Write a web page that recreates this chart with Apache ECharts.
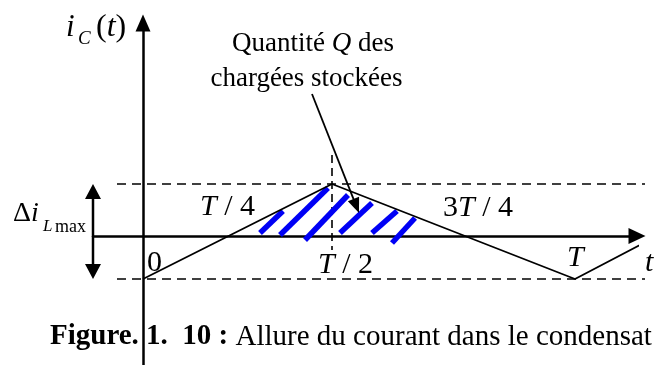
<!DOCTYPE html>
<html>
<head>
<meta charset="utf-8">
<script src="https://cdn.jsdelivr.net/npm/echarts@6/dist/echarts.min.js"></script>
<style>
  html, body { margin: 0; padding: 0; background: #ffffff; }
  #chart { width: 659px; height: 365px; }
</style>
</head>
<body>
<div id="chart"></div>
<script>
// Capacitor current i_C(t): triangular ripple over one period.
// Diagram units: origin at t = 0 on the time axis, i = 0 on the current axis.
const waveT = [0, 189, 432, 516];
const waveI = [-43, 52, -43, 1];

// Ripple extremes (dashed guides) and how far they run along t
const levelHigh = 52;
const levelLow = -43;
const levelFrom = -26;
const levelTo = 502;

// Vertical dashed guide through the peak (t = T/2)
const peakT = 189;
const peakGuide = [81, -14];

// Hatching of the stored charge Q: segments [t1, i1, t2, i2]
const hatchSegments = [
  [117, 3, 140, 25],
  [137, 1, 185, 48],
  [162, -4, 205, 41],
  [197, 3, 229, 33],
  [229, 3, 254, 25],
  [249, -7, 272, 18]
];

// Pointer from the "Quantité Q" note into the hatched area: [t1, i1, t2, i2]
const pointer = [169, 142, 216, 23];

// Δi_L max double arrow, drawn at t = rippleT between the two levels
const rippleT = -50;

// Axis extents
const tRange = [-50, 494];
const iRange = [-129, 213];

const serif = '"Liberation Serif", "Times New Roman", "DejaVu Serif", serif';
const ink = '#000000';
const hatchBlue = '#0000f5';

function arrowRenderer(headW, headL, lineW) {
  return function (params, api) {
    const a = api.coord([api.value(0), api.value(1)]);
    const b = api.coord([api.value(2), api.value(3)]);
    const both = api.value(4) === 1;
    const dx = b[0] - a[0], dy = b[1] - a[1];
    const len = Math.hypot(dx, dy);
    const ux = dx / len, uy = dy / len;
    const px = -uy, py = ux;
    const head = (tip, sx, sy) => {
      const bx = tip[0] - sx * headL, by = tip[1] - sy * headL;
      return {
        type: 'polygon',
        shape: { points: [tip, [bx + px * headW / 2, by + py * headW / 2], [bx - px * headW / 2, by - py * headW / 2]] },
        style: { fill: ink, stroke: null }
      };
    };
    const start = both ? [a[0] + ux * headL * 0.9, a[1] + uy * headL * 0.9] : a;
    const end = [b[0] - ux * headL * 0.9, b[1] - uy * headL * 0.9];
    const children = [
      { type: 'line', shape: { x1: start[0], y1: start[1], x2: end[0], y2: end[1] }, style: { stroke: ink, lineWidth: lineW } },
      head(b, ux, uy)
    ];
    if (both) children.push(head(a, -ux, -uy));
    return { type: 'group', children: children };
  };
}

function hatchRenderer(params, api) {
  const a = api.coord([api.value(0), api.value(1)]);
  const b = api.coord([api.value(2), api.value(3)]);
  return {
    type: 'line',
    shape: { x1: a[0], y1: a[1], x2: b[0], y2: b[1] },
    style: { stroke: hatchBlue, lineWidth: 5.5, lineCap: 'butt' }
  };
}

function txt(x, y, text, size, opts) {
  opts = opts || {};
  const style = {
    text: text,
    x: x, y: y,
    font: (opts.style || '') + ' ' + size + 'px ' + serif,
    fill: ink,
    align: opts.align || 'left',
    textAlign: opts.align || 'left',
    verticalAlign: 'middle',
    textVerticalAlign: 'middle'
  };
  if (opts.rich) style.rich = opts.rich;
  return { type: 'text', z: 100, style: style };
}

function richSet(size, extra) {
  const base = {
    n: { fontFamily: serif, fontSize: size, fontStyle: 'normal', color: ink },
    i: { fontFamily: serif, fontSize: size, fontStyle: 'italic', color: ink }
  };
  return Object.assign(base, extra || {});
}

const chart = echarts.init(document.getElementById('chart'), null, { renderer: 'canvas' });

const option = {
  backgroundColor: '#ffffff',
  animation: false,
  grid: { left: 93, right: 22, top: 23, bottom: 0 },
  xAxis: {
    type: 'value',
    min: tRange[0], max: tRange[1],
    axisLine: {
      show: true, onZero: true,
      symbol: ['none', 'triangle'], symbolSize: [16, 17], symbolOffset: [0, 0],
      lineStyle: { color: ink, width: 2.5 }
    },
    axisTick: { show: false }, axisLabel: { show: false }, splitLine: { show: false }
  },
  yAxis: {
    type: 'value',
    min: iRange[0], max: iRange[1],
    axisLine: {
      show: true, onZero: true,
      symbol: ['none', 'triangle'], symbolSize: [15, 17], symbolOffset: [0, 0],
      lineStyle: { color: ink, width: 2.5 }
    },
    axisTick: { show: false }, axisLabel: { show: false }, splitLine: { show: false }
  },
  series: [
    {
      name: 'guides',
      type: 'lines',
      coordinateSystem: 'cartesian2d',
      clip: false,
      silent: true,
      z: 2,
      lineStyle: { color: ink, width: 1.6, type: [9, 6], opacity: 1 },
      data: [
        { coords: [[levelFrom, levelHigh], [levelTo, levelHigh]] },
        { coords: [[levelFrom, levelLow], [levelTo, levelLow]] }
      ]
    },
    {
      name: 'peakGuide',
      type: 'lines',
      coordinateSystem: 'cartesian2d',
      clip: false,
      silent: true,
      z: 2,
      lineStyle: { color: ink, width: 1.6, type: [8, 5], opacity: 1 },
      data: [{ coords: [[peakT, peakGuide[0]], [peakT, peakGuide[1]]] }]
    },
    {
      name: 'Q',
      type: 'custom',
      coordinateSystem: 'cartesian2d',
      clip: false,
      z: 3,
      renderItem: hatchRenderer,
      encode: { x: [0, 2], y: [1, 3] },
      data: hatchSegments
    },
    {
      name: 'i_C',
      type: 'line',
      clip: false,
      z: 4,
      symbol: 'none',
      lineStyle: { color: ink, width: 1.8 },
      data: waveT.map((t, k) => [t, waveI[k]])
    },
    {
      name: 'pointer',
      type: 'custom',
      coordinateSystem: 'cartesian2d',
      clip: false,
      z: 5,
      renderItem: arrowRenderer(12, 15, 1.8),
      encode: { x: [0, 2], y: [1, 3] },
      data: [pointer.concat([0])]
    },
    {
      name: 'ripple',
      type: 'custom',
      coordinateSystem: 'cartesian2d',
      clip: false,
      z: 5,
      renderItem: arrowRenderer(16, 15, 2.5),
      encode: { x: [0, 2], y: [1, 3] },
      data: [[rippleT, levelLow, rippleT, levelHigh, 1]]
    }
  ],
  graphic: [
    // i_C(t)
    txt(66, 27.5, 'i', 31, { style: 'italic' }),
    txt(78, 38.6, 'C', 19, { style: 'italic' }),
    txt(96, 27.5, '{n|(}{i|t}{n|)}', 32, { rich: richSet(32) }),
    // note on the stored charge
    txt(313, 44, '{n|Quantité }{i|Q}{n| des}', 27, { align: 'center', rich: richSet(27) }),
    txt(306.5, 79, 'chargées stockées', 27, { align: 'center' }),
    // time marks
    txt(200, 207, '{i|T}{n| / 4}', 30, { rich: richSet(30) }),
    txt(443, 208, '{n|3}{i|T}{n| / 4}', 30, { rich: richSet(30) }),
    txt(147, 263, '0', 30),
    txt(318, 265, '{i|T}{n| / 2}', 30, { rich: richSet(30) }),
    txt(567, 258, 'T', 30, { style: 'italic' }),
    txt(645, 263, 't', 30, { style: 'italic' }),
    // Δi_L max
    txt(13, 213.5, '{n|Δ}{i|i}', 28, { rich: richSet(28) }),
    txt(43, 227, 'L', 17, { style: 'italic' }),
    txt(55, 227, 'max', 18),
    // caption
    txt(50, 337, '{b|Figure. 1.  10 :}{n| Allure du courant dans le condensat}', 29, {
      rich: {
        b: { fontFamily: serif, fontSize: 29, fontWeight: 'bold', color: ink },
        n: { fontFamily: serif, fontSize: 29, color: ink }
      }
    })
  ]
};

chart.setOption(option);
</script>
</body>
</html>
